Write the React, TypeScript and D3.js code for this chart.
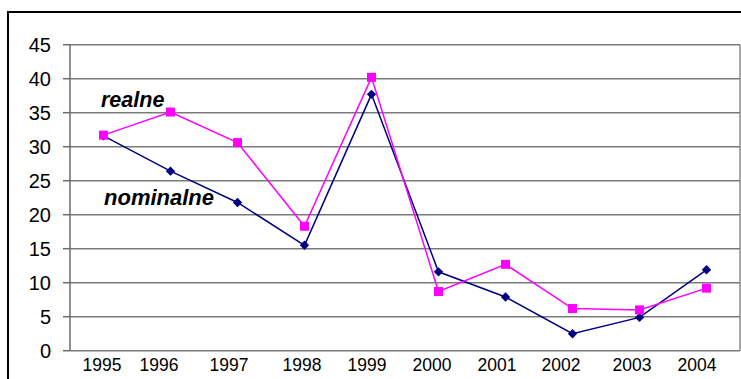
import React from "react";
import * as d3 from "d3";

// Years on the category axis
const years = ["1995", "1996", "1997", "1998", "1999", "2000", "2001", "2002", "2003", "2004"];
// Nominal series (navy diamonds)
const nominalne = [31.6, 26.4, 21.8, 15.5, 37.7, 11.6, 7.9, 2.5, 4.9, 11.9];
// Real series (magenta squares)
const realne = [31.7, 35.1, 30.6, 18.3, 40.2, 8.7, 12.7, 6.2, 6.0, 9.2];
// Value axis ticks
const yTicks = [0, 5, 10, 15, 20, 25, 30, 35, 40, 45];
// Small horizontal nudges of the year labels relative to their category centres
const labelNudge = [-1.5, -11.5, -8.5, -2.5, -4.5, -6.5, -8.5, -11.5, -7.5, -9.5];

const W = 741;
const H = 379;
const plot = { left: 70, right: 740, top: 44.7, bottom: 350.7 };

export default function App() {
  const x = d3
    .scaleBand<string>()
    .domain(years)
    .range([plot.left, plot.right])
    .padding(0);
  const cx = (yr: string) => (x(yr) ?? 0) + x.bandwidth() / 2;
  const y = d3.scaleLinear().domain([0, 45]).range([plot.bottom, plot.top]);

  const line = d3
    .line<number>()
    .x((_, i) => cx(years[i]))
    .y((d) => y(d));

  // square rotated 45 degrees for the nominal markers
  const diamond = d3.symbol().type(d3.symbolSquare).size(44)() as string;

  const font = "'Liberation Sans', Arial, sans-serif";
  const gridColor = "#7a7a7a";

  return (
    <svg
      width={W}
      height={H}
      style={{ position: "absolute", left: 0, top: 0, background: "#fff" }}
    >
      {/* outer chart frame */}
      <rect x={8} y={12} width={740} height={400} fill="none" stroke="#000" strokeWidth={2} />

      {/* horizontal gridlines */}
      {yTicks.map((t) => (
        <line
          key={"g" + t}
          x1={plot.left}
          x2={plot.right}
          y1={y(t)}
          y2={y(t)}
          stroke={gridColor}
          strokeWidth={1.5}
        />
      ))}

      {/* plot area right edge */}
      <line x1={plot.right} x2={plot.right} y1={plot.top} y2={plot.bottom} stroke="#8a8a8a" strokeWidth={1.5} />

      {/* value axis */}
      <line x1={plot.left} x2={plot.left} y1={plot.top} y2={plot.bottom} stroke="#6a6a6a" strokeWidth={1.5} />
      {yTicks.map((t) => (
        <g key={"t" + t}>
          <line x1={plot.left - 7} x2={plot.left} y1={y(t)} y2={y(t)} stroke="#6a6a6a" strokeWidth={1.5} />
          <text
            x={51}
            y={y(t)}
            dy="0.36em"
            textAnchor="end"
            fontFamily={font}
            fontSize={20}
            fill="#000"
          >
            {t}
          </text>
        </g>
      ))}

      {/* category labels */}
      {years.map((yr, i) => (
        <text
          key={"x" + yr}
          x={cx(yr) + labelNudge[i]}
          y={371}
          textAnchor="middle"
          fontFamily={font}
          fontSize={17.5}
          fill="#000"
        >
          {yr}
        </text>
      ))}

      {/* nominal series */}
      <path d={line(nominalne) ?? ""} fill="none" stroke="#000080" strokeWidth={1.5} />
      {/* real series */}
      <path d={line(realne) ?? ""} fill="none" stroke="#ff00ff" strokeWidth={1.5} />

      {nominalne.map((v, i) => (
        <path
          key={"d" + i}
          d={diamond}
          transform={`translate(${cx(years[i])},${y(v)}) rotate(45)`}
          fill="#000080"
        />
      ))}
      {realne.map((v, i) => (
        <rect
          key={"s" + i}
          x={cx(years[i]) - 4.5}
          y={y(v) - 4.5}
          width={9}
          height={9}
          fill="#ff00ff"
        />
      ))}

      {/* series annotations */}
      <text x={101} y={107} fontFamily={font} fontSize={21.5} fontWeight="bold" fontStyle="italic" fill="#000">
        realne
      </text>
      <text x={104} y={205} fontFamily={font} fontSize={22} fontWeight="bold" fontStyle="italic" fill="#000">
        nominalne
      </text>
    </svg>
  );
}
